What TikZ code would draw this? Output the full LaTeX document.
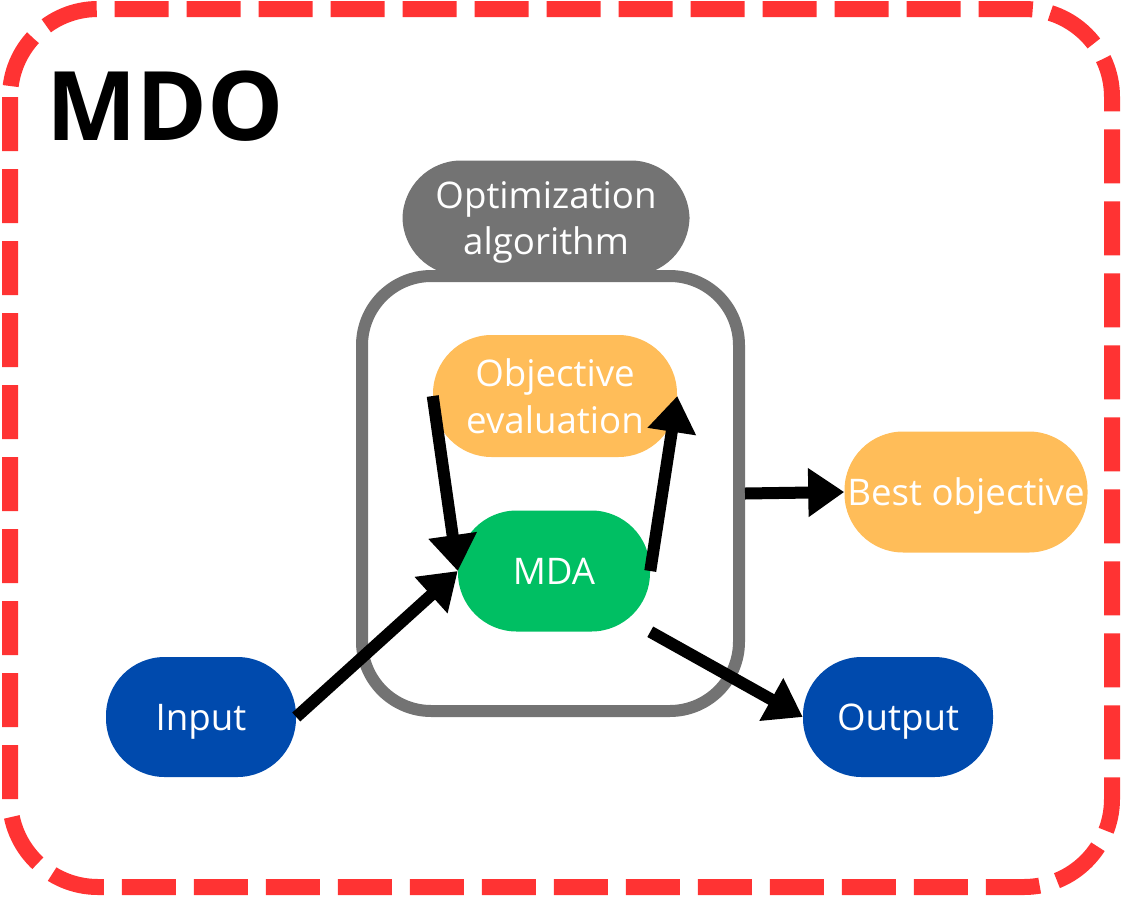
\documentclass[tikz,border=0pt]{standalone}
\usepackage{fontspec}
\setmainfont{Open Sans}
\usepackage{xcolor}
\usetikzlibrary{arrows.meta}

\definecolor{mdored}{RGB}{255,51,51}
\definecolor{pillgray}{RGB}{115,115,115}
\definecolor{pillorange}{RGB}{255,189,89}
\definecolor{pillgreen}{RGB}{0,191,99}
\definecolor{pillblue}{RGB}{0,74,173}

\begin{document}
\begin{tikzpicture}[x=0.75pt,y=0.75pt,yscale=-1,xscale=1,
  pill/.style={rectangle,rounded corners=44pt,inner sep=0pt,text=white,align=center,
    text depth=0pt,font=\fontsize{27.5}{35}\selectfont},
  flow/.style={line width=9pt,-{Triangle[length=27pt,width=35pt]}}]
\useasboundingbox (0,0) rectangle (1121,897);

%Shape: Rounded Rectangle [id:mdo_frame]
\draw [color=mdored,line width=12pt,dash pattern=on 40.5pt off 13.5pt,rounded corners=66pt] (10,9) rectangle (1112,887);
% Text Node
\node [anchor=base west,inner sep=0pt,font=\fontsize{72}{80}\selectfont\bfseries] (title) at (46,140) {MDO};

%Shape: Rounded Rectangle [id:opt_loop]
\node [draw=pillgray,line width=9pt,rounded corners=52pt,minimum width=282.75pt,minimum height=326.25pt] (loop) at (550.5,493.5) {};

% Text Node
\node [pill,fill=pillgray,minimum width=215.25pt,minimum height=86.25pt] (opt) at (546,218) {Optimization\\algorithm};
% Text Node
\node [pill,fill=pillorange,minimum width=183pt,minimum height=91.5pt] (obj) at (555,396) {Objective\\evaluation};
% Text Node
\node [pill,fill=pillgreen,minimum width=144pt,minimum height=90.75pt] (mda) at (554,571) {MDA};
% Text Node
\node [pill,fill=pillorange,minimum width=182.25pt,minimum height=90.75pt] (best) at (966,492) {Best objective};
% Text Node
\node [pill,fill=pillblue,minimum width=142.5pt,minimum height=90pt] (in) at (201,717) {Input};
% Text Node
\node [pill,fill=pillblue,minimum width=142.5pt,minimum height=90pt] (out) at (898,717) {Output};

\coordinate (mdacorner) at (mda.east |- mda.south);

% Arrows
\draw [flow] (in.east) -- (mda.west);
\draw [flow] (obj.west) -- (mda.west);
\draw [flow] (mda.east) -- (obj.east);
\draw [flow] (loop.east) -- (best.west);
\draw [flow] (mdacorner) -- (out.west);

\end{tikzpicture}
\end{document}
